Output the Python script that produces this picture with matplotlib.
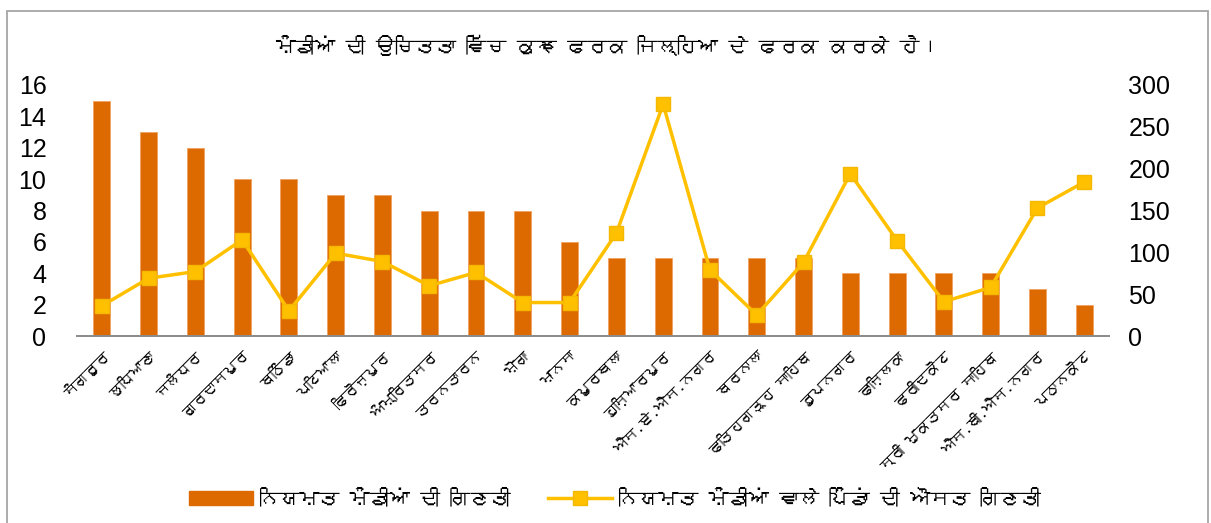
import matplotlib
matplotlib.use("Agg")
import matplotlib.pyplot as plt
from matplotlib import font_manager
from matplotlib.ft2font import FT2Font
from matplotlib.lines import Line2D
from matplotlib.patches import Patch, Rectangle

districts = ["ਸੰਗਰੂਰ", "ਲੁਧਿਆਣਾ", "ਜਲੰਧਰ", "ਗੁਰਦਾਸਪੁਰ", "ਬਠਿੰਡਾ", "ਪਟਿਆਲਾ",
             "ਫਿਰੋਜ਼ਪੁਰ", "ਅੰਮ੍ਰਿਤਸਰ", "ਤਰਨਤਾਰਨ", "ਮੋਗਾ", "ਮਾਨਸਾ", "ਕਪੂਰਥਲਾ",
             "ਹੁਸ਼ਿਆਰਪੁਰ", "ਐਸ.ਏ.ਐਸ.ਨਗਰ", "ਬਰਨਾਲਾ", "ਫਤਿਹਗੜ੍ਹ ਸਾਹਿਬ", "ਰੂਪਨਗਰ",
             "ਫਾਜ਼ਿਲਕਾ", "ਫਰੀਦਕੋਟ", "ਸ੍ਰੀ ਮੁਕਤਸਰ ਸਾਹਿਬ", "ਐਸ.ਬੀ.ਐਸ.ਨਗਰ", "ਪਠਾਨਕੋਟ"]
mandi_count = [15, 13, 12, 10, 10, 9, 9, 8, 8, 8, 6, 5, 5, 5, 5, 5, 4, 4, 4, 4, 3, 2]
avg_villages = [36, 69, 77, 115, 30, 99, 89, 60, 76, 40, 40, 123, 277, 79, 25, 88,
                194, 114, 41, 58, 153, 184]
left_ticks = [0, 2, 4, 6, 8, 10, 12, 14, 16]
right_ticks = [0, 50, 100, 150, 200, 250, 300]
title = "ਮੰਡੀਆਂ ਦੀ ਉਚਿਤਤਾ ਵਿੱਚ ਕੁਝ ਫਰਕ ਜਿਲ੍ਹਿਆ ਦੇ ਫਰਕ ਕਰਕੇ ਹੈ।"
bar_label = "ਨਿਯਮਤ ਮੰਡੀਆਂ ਦੀ ਗਿਣਤੀ"
line_label = "ਨਿਯਮਤ ਮੰਡੀਆਂ ਵਾਲੇ ਪਿੰਡਾਂ ਦੀ ਔਸਤ ਗਿਣਤੀ"

# find a font covering Gurmukhi, if any
gur_family = None
for fe in font_manager.fontManager.ttflist:
    try:
        cm = FT2Font(fe.fname).get_charmap()
        if 0x0A2E in cm and 0x0A30 in cm:
            gur_family = fe.name
            break
    except Exception:
        pass
text_fam = [gur_family, "DejaVu Sans"] if gur_family else ["DejaVu Sans"]

plt.rcParams["font.family"] = ["Liberation Sans", "DejaVu Sans"]

W, H = 1211, 523
fig = plt.figure(figsize=(W / 100, H / 100), dpi=100)
ax = fig.add_axes([77 / W, 1 - 336 / H, (1109 - 77) / W, (336 - 85) / H])
ax2 = ax.twinx()

x = list(range(len(districts)))
bar_color = "#DD6A00"
line_color = "#FFC000"
ax.bar(x, mandi_count, width=0.36, color=bar_color, edgecolor="#F0A060", linewidth=0.6, zorder=2)
ax2.plot(x, avg_villages, color=line_color, linewidth=2.5, marker="s", markersize=10,
         markerfacecolor=line_color, markeredgecolor="#F5B800", zorder=3)

ax.set_xlim(-0.53, len(districts) - 0.47)
ax.set_ylim(0, 16)
ax2.set_ylim(0, 300)
ax.set_yticks(left_ticks)
ax2.set_yticks(right_ticks)
ax.tick_params(axis="y", length=0, labelsize=18, pad=22)
ax2.tick_params(axis="y", length=0, labelsize=18, pad=14)
ax.set_xticks(x)
ax.set_xticklabels(districts, rotation=45, ha="right", rotation_mode="anchor",
                   fontsize=10.5, family=text_fam)
ax.tick_params(axis="x", length=0, pad=9)
for a in (ax, ax2):
    for s in ("top", "left", "right"):
        a.spines[s].set_visible(False)
    a.spines["bottom"].set_color("#8C8C8C")
    a.spines["bottom"].set_linewidth(1.3)

fig.text(607 / W, 1 - 45 / H, title, ha="center", va="center", fontsize=14.5, family=text_fam)

handles = [Patch(facecolor=bar_color, edgecolor=bar_color),
           Line2D([0], [0], color=line_color, linewidth=2.5, marker="s", markersize=10,
                  markerfacecolor=line_color, markeredgecolor="#F5B800")]
fig.legend(handles, [bar_label, line_label], loc="center", bbox_to_anchor=(615 / W, 1 - 497 / H),
           ncol=2, frameon=False, prop={"family": text_fam, "size": 14.5},
           handlelength=3.2, handletextpad=0.3, columnspacing=1.8)

fig.patches.append(Rectangle((7 / W, -0.05), (1208 - 7) / W, 1.05 - 11 / H,
                             transform=fig.transFigure, fill=False, edgecolor="#A6A6A6",
                             linewidth=1.3))

fig.savefig("out.png", dpi=100)
